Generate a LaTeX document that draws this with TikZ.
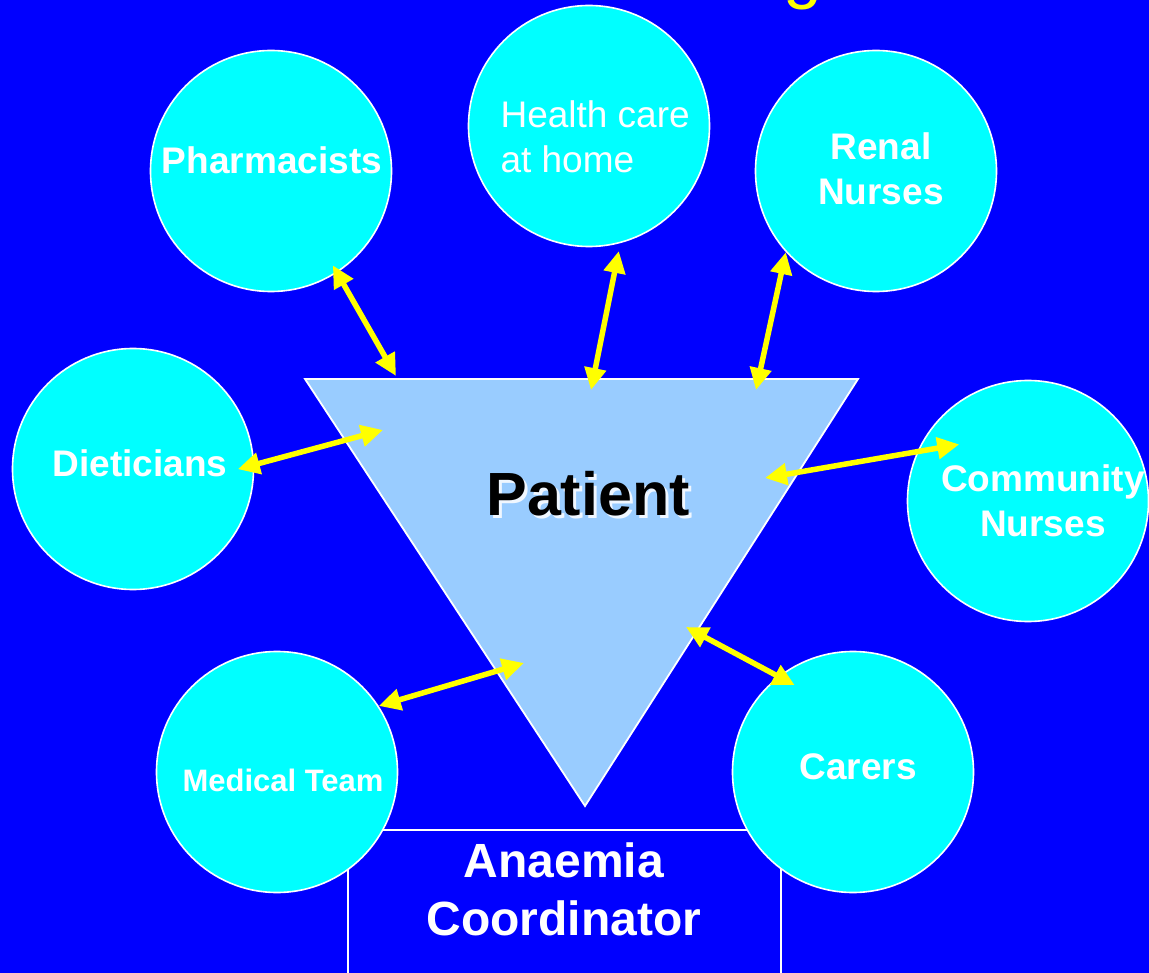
\documentclass[tikz,border=0pt]{standalone}
\usepackage{fontspec}
\setmainfont{Liberation Sans}
\usetikzlibrary{arrows.meta}
\definecolor{slide}{RGB}{0,0,255}
\definecolor{bubble}{RGB}{0,255,255}
\definecolor{wedge}{RGB}{153,204,255}
\definecolor{link}{RGB}{255,255,0}

\begin{document}
\begin{tikzpicture}[x=1pt,y=-1pt,
  disc/.style={circle,draw=white,line width=1.6pt,fill=bubble,minimum size=241pt,inner sep=0pt},
  lbl/.style={text=white,font=\bfseries\fontsize{37}{45}\selectfont,align=center,anchor=base},
  arr/.style={draw=link,line width=5.5pt,{Triangle[length=22pt,width=21pt]}-{Triangle[length=22pt,width=21pt]}}]
\useasboundingbox (0,0) rectangle (1149,973);
\fill[slide] (0,0) rectangle (1149,973);
\node[text=link,font=\fontsize{70}{74}\selectfont,anchor=base west] (ttl) at (780,-4) {g};

% coordinator box, partly under the circles
\draw[white,line width=1.6pt] (348,990) -- (348,830) -- (781,830) -- (781,990);
\node[lbl,font=\bfseries\fontsize{48}{58}\selectfont] (co) at (564,935) {Anaemia\\Coordinator};

% patient triangle
\draw[fill=wedge,draw=white,line width=1.8pt] (305,379) -- (858,379) -- (585,806) -- cycle;
\node[anchor=base,text=white!85!wedge,font=\bfseries\fontsize{61}{70}\selectfont] (pa-s) at (591,518) {Patient};
\node[anchor=base,text=black,font=\bfseries\fontsize{61}{70}\selectfont] (pa) at (588,515) {Patient};

\node[disc] (ph) at (271,171) {};
\node[disc] (hc) at (589,126) {};
\node[disc] (rn) at (876,171) {};
\node[disc] (di) at (133,469) {};
\node[disc] (cn) at (1028,501) {};
\node[disc] (mt) at (277,772) {};
\node[disc] (ca) at (853,772) {};

% multi-line labels sit on their last baseline
\node[lbl] (ph-t) at (272,174) {Pharmacists};
\node[lbl,font=\fontsize{37}{45}\selectfont,align=left,anchor=base west] (hc-t) at (497,173) {Health care\\at home};
\node[lbl] (rn-t) at (881,205) {Renal\\Nurses};
\node[lbl] (di-t) at (140,476) {Dieticians};
\node[lbl] (cn-t) at (1043,536) {Community\\Nurses};
\node[lbl,font=\bfseries\fontsize{31}{36}\selectfont] (mt-t) at (283,791) {Medical Team};
\node[lbl] (ca-t) at (858,779) {Carers};

\coordinate (t1) at (396,376);
\coordinate (t2) at (591,390);
\coordinate (t3) at (756,390);
\coordinate (t4) at (383,430);
\coordinate (t5) at (765,478);
\coordinate (t6) at (524,663);
\coordinate (t7) at (686,627);

\draw[arr,shorten >=-8.5pt] (t1) -- (ph.-57);
\draw[arr,shorten >=8pt] (t2) -- (hc.-75);
\draw[arr] (t3) -- (rn.-138.5);
\draw[arr,shorten >=-17pt] (t4) -- (di.2.5);
\draw[arr,shorten >=-42.7pt] (t5) -- (cn.156);
\draw[arr] (t6) -- (mt.33);
\draw[arr,shorten >=-18.6pt] (t7) -- (ca.128);
\end{tikzpicture}
\end{document}
